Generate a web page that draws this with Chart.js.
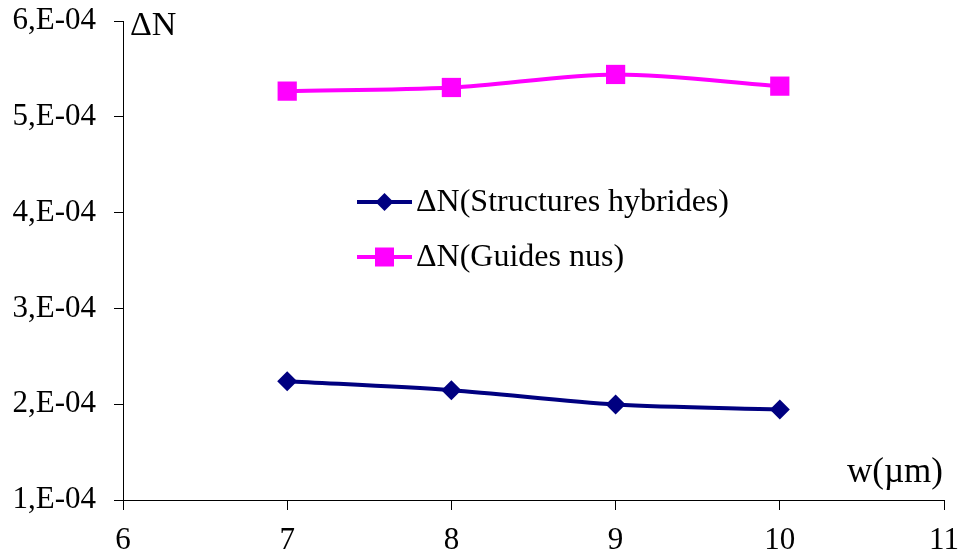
<!DOCTYPE html>
<html>
<head>
<meta charset="utf-8">
<script src="https://cdn.jsdelivr.net/npm/chart.js@4.4.0/dist/chart.umd.min.js"></script>
<style>
  body { margin: 0; background: #fff; }
  #wrap { width: 959px; height: 553px; }
</style>
</head>
<body>
<div id="wrap"><canvas id="myChart" width="959" height="553"></canvas></div>
<script>
// values
const widths = [7, 8, 9, 10];
const hybrides = [2.24e-4, 2.146e-4, 1.997e-4, 1.945e-4];
const guidesNus = [5.268e-4, 5.306e-4, 5.442e-4, 5.32e-4];
const yTickValues = [1e-4, 2e-4, 3e-4, 4e-4, 5e-4, 6e-4];
const yTickLabels = ["1,E-04", "2,E-04", "3,E-04", "4,E-04", "5,E-04", "6,E-04"];
const xTickValues = [6, 7, 8, 9, 10, 11];
const seriesLabels = ["\u0394N(Structures hybrides)", "\u0394N(Guides nus)"];

const FONT = "'Liberation Serif', 'Times New Roman', serif";

const toPoints = (ys) => widths.map((x, i) => ({ x: x, y: ys[i] }));

const legendAndTitles = {
  id: "legendAndTitles",
  afterDraw(chart) {
    const ctx = chart.ctx;
    const area = chart.chartArea;
    ctx.save();
    ctx.fillStyle = "#000";
    ctx.font = "34px " + FONT;
    ctx.textBaseline = "alphabetic";
    ctx.textAlign = "left";
    ctx.fillText("\u0394N", area.left + 7, area.top + 14);
    ctx.font = "35px " + FONT;
    ctx.textAlign = "right";
    ctx.fillText("w(\u00b5m)", area.right - 1, area.bottom - 18);

    // legend
    const rows = [area.top + 181, area.top + 236];
    chart.data.datasets.forEach((ds, i) => {
      const y = rows[i];
      const x0 = area.left + 234, x1 = area.left + 289;
      ctx.strokeStyle = ds.borderColor;
      ctx.lineWidth = ds.borderWidth;
      ctx.beginPath();
      ctx.moveTo(x0, y);
      ctx.lineTo(x1, y);
      ctx.stroke();
      const cx = (x0 + x1) / 2;
      ctx.fillStyle = ds.pointBackgroundColor;
      ctx.beginPath();
      if (ds.pointStyle === "rectRot") {
        const r = 9;
        ctx.moveTo(cx, y - r);
        ctx.lineTo(cx + r, y);
        ctx.lineTo(cx, y + r);
        ctx.lineTo(cx - r, y);
        ctx.closePath();
      } else {
        ctx.rect(cx - 9.5, y - 9.5, 19, 19);
      }
      ctx.fill();
      ctx.fillStyle = "#000";
      ctx.font = "32px " + FONT;
      ctx.textAlign = "left";
      ctx.textBaseline = "middle";
      ctx.fillText(ds.label, x1 + 4, y + 1);
    });
    ctx.restore();
  }
};

new Chart(document.getElementById("myChart"), {
  type: "line",
  data: {
    datasets: [
      {
        label: seriesLabels[0],
        data: toPoints(hybrides),
        borderColor: "#000080",
        backgroundColor: "#000080",
        pointBackgroundColor: "#000080",
        pointBorderColor: "#000080",
        pointStyle: "rectRot",
        pointRadius: 10,
        pointBorderWidth: 0,
        borderWidth: 4,
        tension: 0.3,
        fill: false
      },
      {
        label: seriesLabels[1],
        data: toPoints(guidesNus),
        borderColor: "#FF00FF",
        backgroundColor: "#FF00FF",
        pointBackgroundColor: "#FF00FF",
        pointBorderColor: "#FF00FF",
        pointStyle: "rect",
        pointRadius: 13.6,
        pointBorderWidth: 0,
        borderWidth: 4,
        tension: 0.3,
        fill: false
      }
    ]
  },
  options: {
    responsive: false,
    animation: false,
    layout: { padding: { top: 21, right: 15, left: 0, bottom: 0 } },
    plugins: {
      legend: { display: false },
      tooltip: { enabled: false }
    },
    elements: { line: { clip: false } },
    scales: {
      x: {
        type: "linear",
        min: 6,
        max: 11,
        afterBuildTicks: (scale) => { scale.ticks = xTickValues.map(v => ({ value: v })); },
        afterFit: (scale) => {
          scale.height = 53;
          scale.paddingLeft = 0;
          scale.paddingRight = 0;
        },
        ticks: {
          color: "#000",
          font: { family: FONT, size: 31 },
          padding: 12,
          maxRotation: 0
        },
        grid: { drawOnChartArea: false, drawTicks: true, tickLength: 10, color: "#000", lineWidth: 1 },
        border: { display: true, color: "#000", width: 1 }
      },
      y: {
        type: "linear",
        min: 1e-4,
        max: 6e-4,
        afterBuildTicks: (scale) => { scale.ticks = yTickValues.map(v => ({ value: v })); },
        afterFit: (scale) => {
          scale.width = 123;
          scale.paddingTop = 0;
          scale.paddingBottom = 0;
        },
        ticks: {
          color: "#000",
          font: { family: FONT, size: 31 },
          padding: 18,
          callback: (value, index) => yTickLabels[index]
        },
        grid: { drawOnChartArea: false, drawTicks: true, tickLength: 9, color: "#000", lineWidth: 1 },
        border: { display: true, color: "#000", width: 1 }
      }
    }
  },
  plugins: [legendAndTitles]
});
</script>
</body>
</html>
